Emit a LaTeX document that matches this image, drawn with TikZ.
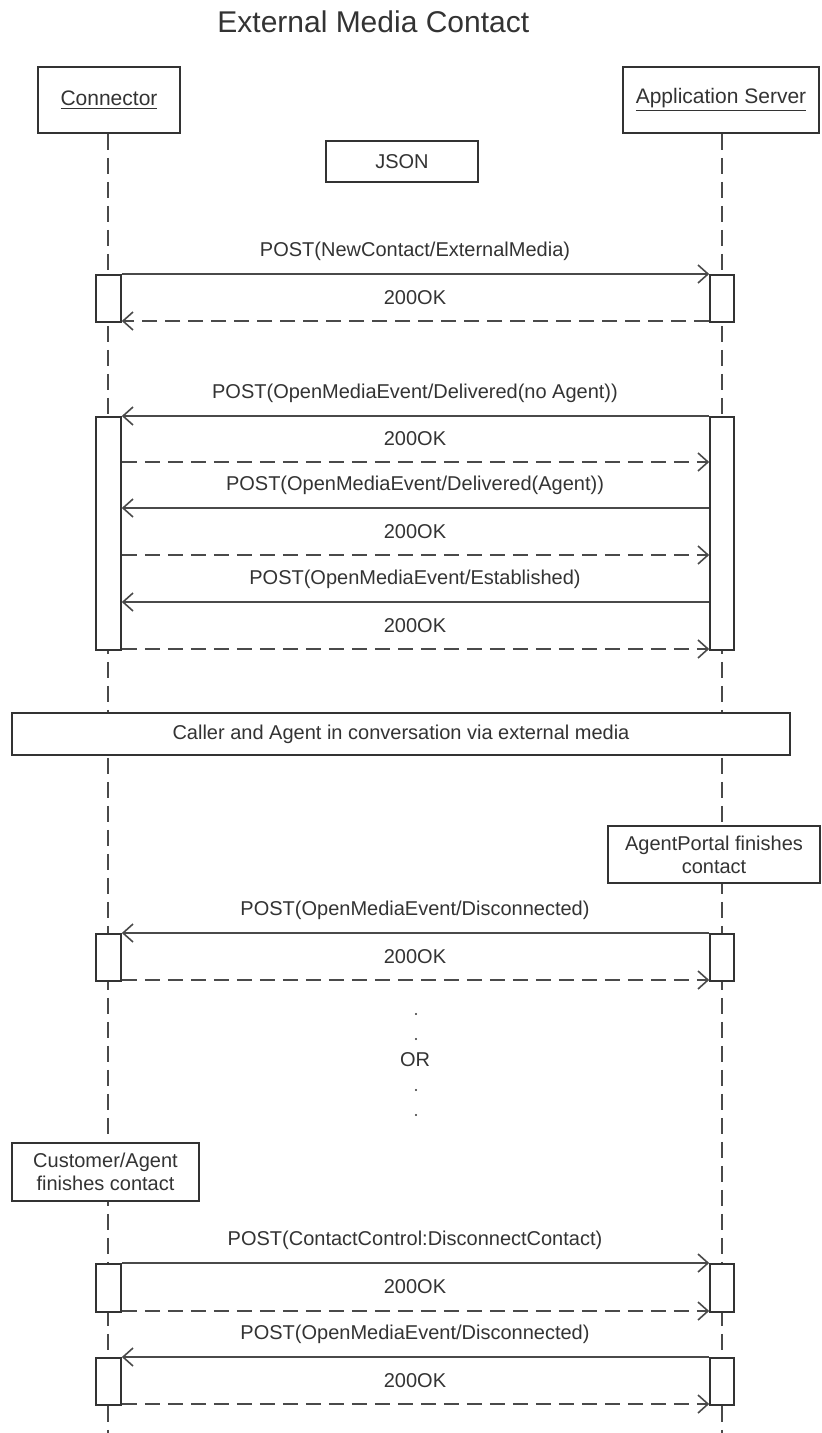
\documentclass[tikz,border=0pt]{standalone}
\usepackage{fontspec}
\setmainfont{Liberation Sans}
\usetikzlibrary{arrows.meta,calc}
\definecolor{ink}{HTML}{333333}
\definecolor{ln}{HTML}{4A4A4A}
\tikzset{
  box/.style={draw=ink, line width=0.8pt, fill=white, rectangle, inner sep=1pt, align=center, text=ink, font=\fontsize{10}{11.5}\selectfont},
  act/.style={draw=ink, line width=0.8pt, fill=white, rectangle, inner sep=0pt, minimum width=12.5pt},
  life/.style={draw=ln, line width=0.8pt, dash pattern=on 8pt off 4pt},
  msg/.style={draw=ln, line width=0.8pt, -{Straight Barb[length=5pt,width=9pt,line width=0.8pt]}},
  ret/.style={msg, dash pattern=on 7.5pt off 4pt},
  lbl/.style={text=ink, font=\fontsize{10}{12}\selectfont, inner sep=0pt},
  dotn/.style={circle, fill=ink, inner sep=0pt, minimum size=1.2pt},
}
\newcommand{\actpair}[3]{%
  \node[act, minimum height={(#3-#2)*0.5pt}, anchor=north] (c#1) at (108.5,#2) {};
  \node[act, minimum height={(#3-#2)*0.5pt}, anchor=north, minimum width=12pt] (s#1) at (722,#2) {};
}
\begin{document}
\begin{tikzpicture}[x=0.5pt, y=-0.5pt]
\useasboundingbox (0,0) rectangle (821,1433);
% title
\node[lbl, font=\fontsize{15}{18}\selectfont, anchor=west] (title) at (217,22) {External Media Contact};
% header boxes
\node[box, minimum width=71pt, minimum height=33pt, font=\fontsize{10.5}{12}\selectfont] (conn) at (109,100) {\underline{Connector}};
\node[box, minimum width=98pt, minimum height=33pt, font=\fontsize{10.5}{12}\selectfont] (srv) at (721,100) {\underline{Application Server}};
\coordinate (connEnd) at (108,1433);
\coordinate (srvEnd) at (722,1433);
\draw[life] (conn.south -| connEnd) -- (connEnd);
\draw[life] (srv.south -| srvEnd) -- (srvEnd);
% JSON note
\node[box, minimum width=76pt, minimum height=20.5pt] (json) at (402,161.5) {JSON};
% activation boxes
\actpair{1}{274}{321}
\actpair{2}{416}{649}
\actpair{3}{933}{980}
\actpair{4}{1263}{1311}
\actpair{5}{1357}{1404}
% message y levels
\coordinate (y1) at (0,274);  \coordinate (y2) at (0,321);
\coordinate (y3) at (0,416);  \coordinate (y4) at (0,462);
\coordinate (y5) at (0,508);  \coordinate (y6) at (0,555);
\coordinate (y7) at (0,602);  \coordinate (y8) at (0,649);
\coordinate (y9) at (0,933);  \coordinate (y10) at (0,980);
\coordinate (y11) at (0,1263); \coordinate (y12) at (0,1311);
\coordinate (y13) at (0,1357); \coordinate (y14) at (0,1404);
% block 1
\node[lbl] (l1) at (415,251) {POST(NewContact/ExternalMedia)};
\draw[msg] (c1.east |- y1) -- (s1.west |- y1);
\node[lbl] (l2) at (415,298) {200OK};
\draw[ret] (s1.west |- y2) -- (c1.east |- y2);
% block 2
\node[lbl] (l3) at (415,393) {POST(OpenMediaEvent/Delivered(no Agent))};
\draw[msg] (s2.west |- y3) -- (c2.east |- y3);
\node[lbl] (l4) at (415,439) {200OK};
\draw[ret] (c2.east |- y4) -- (s2.west |- y4);
\node[lbl] (l5) at (415,485) {POST(OpenMediaEvent/Delivered(Agent))};
\draw[msg] (s2.west |- y5) -- (c2.east |- y5);
\node[lbl] (l6) at (415,532) {200OK};
\draw[ret] (c2.east |- y6) -- (s2.west |- y6);
\node[lbl] (l7) at (415,579) {POST(OpenMediaEvent/Established)};
\draw[msg] (s2.west |- y7) -- (c2.east |- y7);
\node[lbl] (l8) at (415,626) {200OK};
\draw[ret] (c2.east |- y8) -- (s2.west |- y8);
% conversation box
\node[box, minimum width=389pt, minimum height=21pt] (conv) at (401,734) {Caller and Agent in conversation via external media};
% agent portal note
\node[box, minimum width=106pt, minimum height=28.5pt] (ap) at (714,854.5) {AgentPortal finishes\\contact};
% block 3
\node[lbl] (l9) at (415,910) {POST(OpenMediaEvent/Disconnected)};
\draw[msg] (s3.west |- y9) -- (c3.east |- y9);
\node[lbl] (l10) at (415,957) {200OK};
\draw[ret] (c3.east |- y10) -- (s3.west |- y10);
% OR
\node[dotn] (d1) at (416,1014) {};
\node[dotn] (d2) at (416,1039) {};
\node[lbl] (or) at (415,1060) {OR};
\node[dotn] (d3) at (416,1090) {};
\node[dotn] (d4) at (416,1115) {};
% customer note
\node[box, minimum width=93.5pt, minimum height=29pt] (cust) at (105.5,1172) {Customer/Agent\\finishes contact};
% block 4
\node[lbl] (l11) at (415,1240) {POST(ContactControl:DisconnectContact)};
\draw[msg] (c4.east |- y11) -- (s4.west |- y11);
\node[lbl] (l12) at (415,1287) {200OK};
\draw[ret] (c4.east |- y12) -- (s4.west |- y12);
% block 5
\node[lbl] (l13) at (415,1334) {POST(OpenMediaEvent/Disconnected)};
\draw[msg] (s5.west |- y13) -- (c5.east |- y13);
\node[lbl] (l14) at (415,1381) {200OK};
\draw[ret] (c5.east |- y14) -- (s5.west |- y14);
\end{tikzpicture}
\end{document}
